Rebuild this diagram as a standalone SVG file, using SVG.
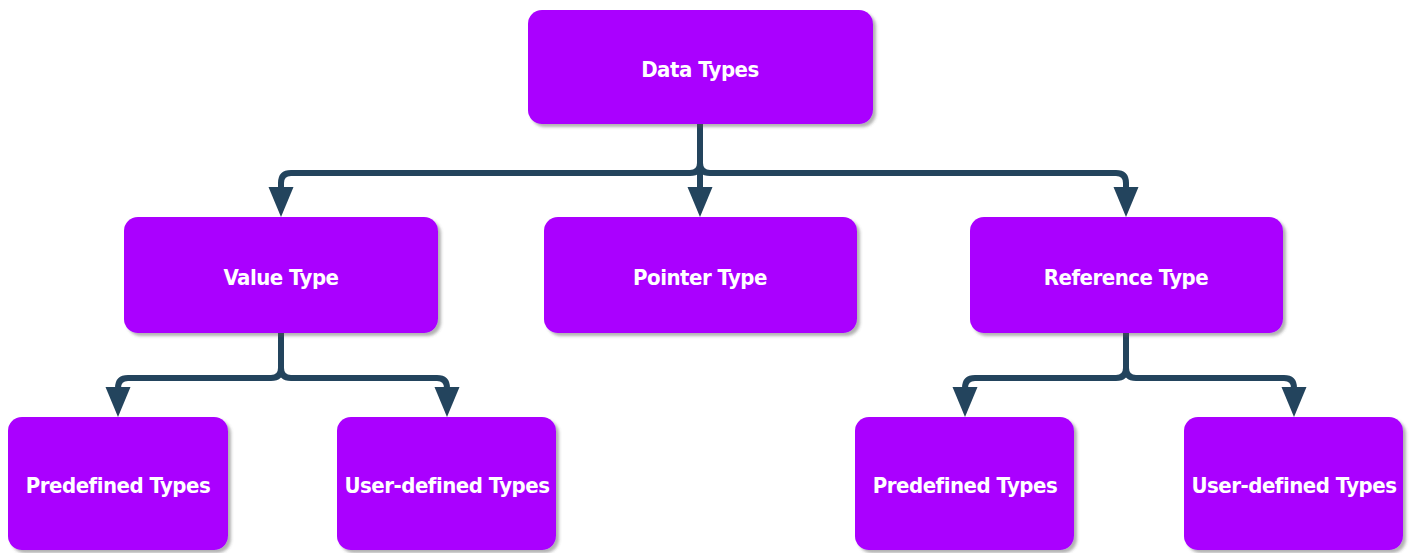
<svg xmlns="http://www.w3.org/2000/svg" width="1414" height="553" viewBox="0 0 1414 553">
  <style>
    .box { fill: #AA00FF; filter: url(#shadow); }
    .label { fill: #FFFFFF; font-family: "DejaVu Sans Condensed", "DejaVu Sans", sans-serif; font-stretch: condensed; font-weight: bold; font-size: 22px; letter-spacing: -0.5px; text-anchor: middle; }
    .edge { fill: none; stroke: #23445D; stroke-width: 6; stroke-linejoin: round; marker-end: url(#arrow); }
  </style>
  <defs>
    <filter id="shadow" x="-10%" y="-10%" width="130%" height="130%">
      <feDropShadow dx="3" dy="3" stdDeviation="1.5" flood-color="#555555" flood-opacity="0.45"/>
    </filter>
    <marker id="arrow" markerUnits="userSpaceOnUse" markerWidth="30" markerHeight="26" refX="18" refY="13" orient="auto">
      <path d="M0,0.5 L30,13 L0,25.5 Z" fill="#23445D"/>
    </marker>
  </defs>

  <rect width="1414" height="553" fill="#FFFFFF"/>

  <!-- connectors -->
  <g id="connectors">
    <path class="edge" d="M700,124 V163 Q700,173 690,173 H291 Q281,173 281,183 V205"/>
    <path class="edge" d="M700,124 V163 Q700,173 710,173 H1116 Q1126,173 1126,183 V205"/>
    <path class="edge" d="M700,124 V205"/>
    <path class="edge" d="M281,333 V368 Q281,378 271,378 H128 Q118,378 118,388 V405"/>
    <path class="edge" d="M281,333 V368 Q281,378 291,378 H437 Q447,378 447,388 V405"/>
    <path class="edge" d="M1126,333 V368 Q1126,378 1116,378 H975 Q965,378 965,388 V405"/>
    <path class="edge" d="M1126,333 V368 Q1126,378 1136,378 H1284 Q1294,378 1294,388 V405"/>
  </g>

  <!-- nodes -->
  <g id="data-types">
    <rect class="box" x="528" y="10" width="345" height="114" rx="14"/>
    <text class="label" x="700" y="77">Data Types</text>
  </g>
  <g id="value-type">
    <rect class="box" x="124" y="217" width="314" height="116" rx="14"/>
    <text class="label" x="281" y="285">Value Type</text>
  </g>
  <g id="pointer-type">
    <rect class="box" x="544" y="217" width="313" height="116" rx="14"/>
    <text class="label" x="700" y="285">Pointer Type</text>
  </g>
  <g id="reference-type">
    <rect class="box" x="970" y="217" width="313" height="116" rx="14"/>
    <text class="label" x="1126" y="285">Reference Type</text>
  </g>
  <g id="value-predefined">
    <rect class="box" x="8" y="417" width="220" height="133" rx="14"/>
    <text class="label" x="118" y="493">Predefined Types</text>
  </g>
  <g id="value-user-defined">
    <rect class="box" x="337" y="417" width="219" height="133" rx="14"/>
    <text class="label" x="447" y="493">User-defined Types</text>
  </g>
  <g id="reference-predefined">
    <rect class="box" x="855" y="417" width="219" height="133" rx="14"/>
    <text class="label" x="965" y="493">Predefined Types</text>
  </g>
  <g id="reference-user-defined">
    <rect class="box" x="1184" y="417" width="219" height="133" rx="14"/>
    <text class="label" x="1294" y="493">User-defined Types</text>
  </g>
</svg>
